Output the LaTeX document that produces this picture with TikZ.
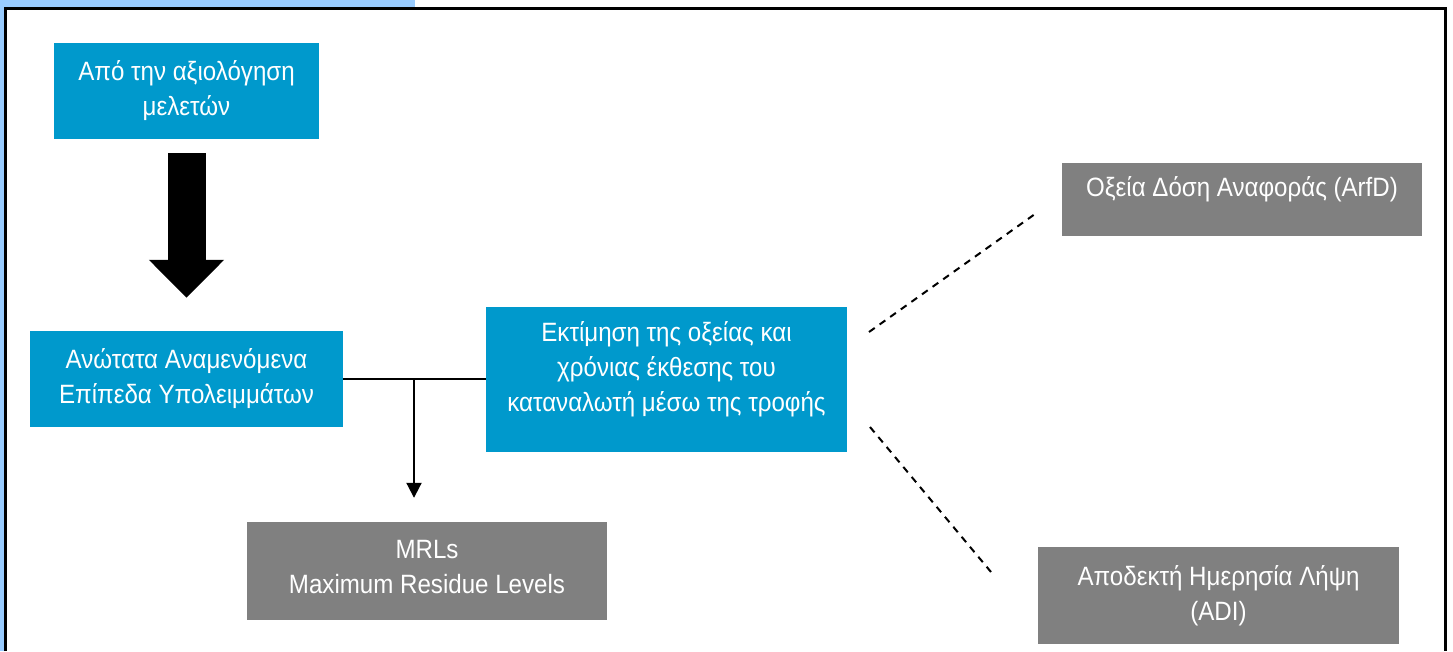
\documentclass[tikz,border=0pt]{standalone}
\usepackage{fontspec}
\setmainfont{Liberation Sans}[FakeStretch=0.91]
\usetikzlibrary{arrows.meta}
\definecolor{boxblue}{HTML}{0099CC}
\definecolor{bandblue}{HTML}{99CCFF}
\definecolor{boxgray}{HTML}{808080}
\begin{document}
\begin{tikzpicture}
	[x=1pt,y=-1pt,
	bluebox/.style={rectangle,fill=boxblue,text=white,align=center,font=\fontsize{26.5pt}{35pt}\selectfont},
	graybox/.style={rectangle,fill=boxgray,text=white,align=center,font=\fontsize{26.5pt}{35pt}\selectfont},
	link/.style={line width=2pt},
	dashlink/.style={line width=2pt,dash pattern=on 7pt off 6pt},
	>={Triangle[length=15pt,width=15pt]}]
	\useasboundingbox (0,0) rectangle (1453,651);
	% frame
	\fill[bandblue] (0,0) rectangle (415,7);
	\fill[bandblue] (0,0) rectangle (4,651);
	\draw[line width=3pt] (5.5,651) -- (5.5,8.5) -- (1445.5,8.5) -- (1445.5,651);
	% boxes
	\node[bluebox,name=src,minimum width=265pt,minimum height=96pt]at(186.5,91){Από την αξιολόγηση\\μελετών};
	\node[bluebox,name=mrl,minimum width=313pt,minimum height=96pt,text depth=6pt]at(186.5,379){Ανώτατα Αναμενόμενα\\Επίπεδα Υπολειμμάτων};
	\node[bluebox,name=expo,minimum width=361pt,minimum height=145pt,text depth=25pt]at(666.5,379){Εκτίμηση της οξείας και\\χρόνιας έκθεσης του\\καταναλωτή μέσω της τροφής};
	\node[graybox,name=mrls,minimum width=360pt,minimum height=98pt,text depth=9pt]at(427,571){MRLs\\Maximum Residue Levels};
	\node[graybox,name=arfd,minimum width=360pt,minimum height=73pt,text depth=25pt]at(1242,199.5){Οξεία Δόση Αναφοράς (ArfD)};
	\node[graybox,name=adi,minimum width=361pt,minimum height=97pt]at(1218.5,595.5){Αποδεκτή Ημερησία Λήψη\\(ADI)};
	% connectors
	\draw[line width=38pt,-{Triangle[length=38pt,width=73pt]}] ([yshift=-14pt]src.south) -- ([yshift=33pt]mrl.north);
	\coordinate (split) at (414,379);
	\draw[link] (mrl.east) -- (expo.west);
	\draw[link,->,shorten >=24pt] (split) -- (split |- mrls.north);
	\coordinate (up1) at (869,332);
	\coordinate (up2) at (1035,214);
	\coordinate (down1) at (870,427);
	\coordinate (down2) at (991,572);
	\draw[dashlink] (up1) -- (up2);
	\draw[dashlink] (down1) -- (down2);
	\end{tikzpicture}
\end{document}
